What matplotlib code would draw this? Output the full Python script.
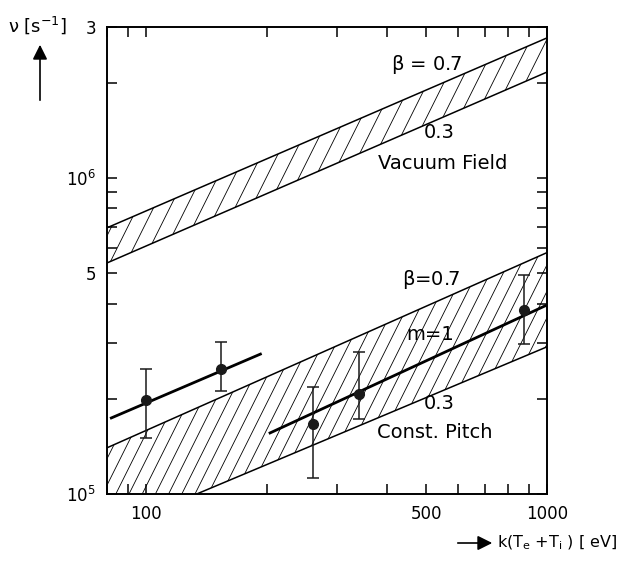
import numpy as np
import matplotlib
matplotlib.use('Agg')
import matplotlib.pyplot as plt
from matplotlib.collections import LineCollection
from matplotlib.ticker import FixedLocator, LogLocator, NullFormatter

plt.rcParams['font.family'] = ['DejaVu Sans']
plt.rcParams['mathtext.fontset'] = 'dejavusans'
plt.rcParams['mathtext.default'] = 'regular'

# band edges (power laws), given at x = 80 and x = 1000 eV
band_x = [80, 1000]
vac_hi = [6.95e5, 2.77e6]   # beta = 0.7
vac_lo = [5.38e5, 2.16e6]   # beta = 0.3
cp_hi = [1.40e5, 5.8e5]     # beta = 0.7
cp_lo = [7.6e4, 2.92e5]     # beta = 0.3

# measured points
pt_x = [100, 154, 261, 339, 876]
pt_y = [1.98e5, 2.49e5, 1.67e5, 2.07e5, 3.82e5]
pt_top = [2.49e5, 3.03e5, 2.18e5, 2.81e5, 4.93e5]
pt_bot = [1.50e5, 2.12e5, 1.12e5, 1.73e5, 2.98e5]

# fitted lines
fit1_x = [82, 193]
fit1_y = [1.74e5, 2.77e5]
fit2_x = [204, 1000]
fit2_y = [1.56e5, 3.96e5]

fig = plt.figure(figsize=(6.24, 5.62), dpi=100)
ax = fig.add_axes([0.1715, 0.121, 0.705, 0.831])
ax.set_xscale('log')
ax.set_yscale('log')
ax.set_xlim(80, 1000)
ax.set_ylim(1e5, 3e6)


def hatched_band(lo, hi, step):
    poly = ax.fill(band_x + band_x[::-1], hi + lo[::-1],
                   facecolor='none', edgecolor='none')[0]
    offs = np.arange(-0.7, 1.05, step)
    segs = [[(c, 0), (c + 0.53, 1)] for c in offs]
    lc = LineCollection(segs, colors='black', linewidths=0.6,
                        transform=ax.transAxes)
    lc.set_clip_path(poly)
    lc.set_clip_box(ax.bbox)
    ax.add_collection(lc, autolim=False)
    ax.plot(band_x, hi, color='black', lw=1.1)
    ax.plot(band_x, lo, color='black', lw=1.1)


hatched_band(vac_lo, vac_hi, 0.037)
hatched_band(cp_lo, cp_hi, 0.03)

ax.plot(fit1_x, fit1_y, color='black', lw=2)
ax.plot(fit2_x, fit2_y, color='black', lw=2)

yerr = [np.array(pt_y) - np.array(pt_bot), np.array(pt_top) - np.array(pt_y)]
ax.errorbar(pt_x, pt_y, yerr=yerr, fmt='o', color='#1a1a1a', ms=7,
            elinewidth=1.1, capsize=4, capthick=1.1)

# ticks
ax.xaxis.set_major_locator(FixedLocator([100, 500, 1000]))
ax.xaxis.set_minor_locator(LogLocator(base=10, subs=np.arange(2, 10)))
ax.xaxis.set_minor_formatter(NullFormatter())
ax.set_xticklabels(['100', '500', '1000'])
ax.yaxis.set_major_locator(FixedLocator([1e5, 5e5, 1e6, 3e6]))
ax.yaxis.set_minor_locator(LogLocator(base=10, subs=np.arange(2, 10)))
ax.yaxis.set_minor_formatter(NullFormatter())
ax.set_yticklabels(['$10^5$', '5', '$10^6$', '3'])
ax.tick_params(which='both', direction='in', top=True, right=True,
               length=7, width=1.1, labelsize=12, pad=8)
for s in ax.spines.values():
    s.set_linewidth(1.4)

# band annotations
fs = 14
ax.text(501, 2.28e6, r'$\beta$ = 0.7', fontsize=fs, ha='center', va='center')
ax.text(540, 1.39e6, '0.3', fontsize=fs, ha='center', va='center')
ax.text(550, 1.11e6, 'Vacuum Field', fontsize=fs, ha='center', va='center')
ax.text(516, 4.76e5, r'$\beta$=0.7', fontsize=fs, ha='center', va='center')
ax.text(510, 3.19e5, 'm=1', fontsize=fs, ha='center', va='center')
ax.text(540, 1.94e5, '0.3', fontsize=fs, ha='center', va='center')
ax.text(525, 1.56e5, 'Const. Pitch', fontsize=fs, ha='center', va='center')

# axis labels with arrows
fig.text(8 / 624, 1 - 25 / 562, r'$\nu$ [s$^{-1}$]', fontsize=13,
         ha='left', va='center')
ax.annotate('', xy=(40 / 624, 1 - 42 / 562), xytext=(40 / 624, 1 - 103 / 562),
            xycoords='figure fraction', textcoords='figure fraction',
            arrowprops=dict(arrowstyle='-|>', color='black', lw=1.2,
                            mutation_scale=22))
ax.annotate('', xy=(495 / 624, 1 - 543 / 562), xytext=(455 / 624, 1 - 543 / 562),
            xycoords='figure fraction', textcoords='figure fraction',
            arrowprops=dict(arrowstyle='-|>', color='black', lw=1.2,
                            mutation_scale=22))
fig.text(497 / 624, 1 - 543 / 562, r'k(T$_e$ +T$_i$ ) [ eV]', fontsize=11.5,
         ha='left', va='center')

fig.savefig('out.png', dpi=100)
